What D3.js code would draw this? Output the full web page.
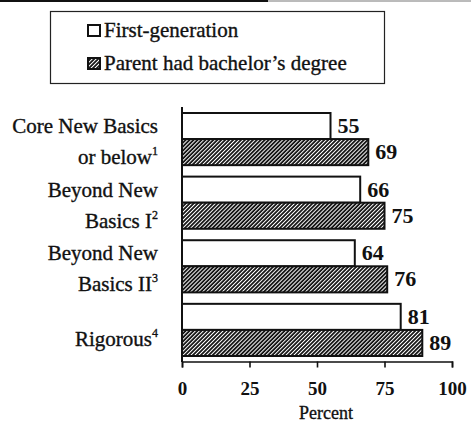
<!DOCTYPE html>
<html>
<head>
<meta charset="utf-8">
<script src="https://cdn.jsdelivr.net/npm/d3@7"></script>
<style>
  body { margin: 0; background: #fff; }
  svg { display: block; }
  text { font-family: "Liberation Serif", "Times New Roman", serif; fill: #111; }
  .lbl { stroke: #111; stroke-width: 0.35; }
</style>
</head>
<body>
<svg width="471" height="431"></svg>
<script>
// data
const categories = ["Core New Basics|or below|1", "Beyond New|Basics I|2", "Beyond New|Basics II|3", "|Rigorous|4"];
const seriesNames = ["First-generation", "Parent had bachelor\u2019s degree"];
const firstGen = [55, 66, 64, 81];
const parentBA = [69, 75, 76, 89];
const xTicks = [0, 25, 50, 75, 100];

const svg = d3.select("svg");

// hatch pattern for the second series
const defs = svg.append("defs");
const pat = defs.append("pattern")
    .attr("id", "hatch")
    .attr("patternUnits", "userSpaceOnUse")
    .attr("width", 2.8).attr("height", 2.8)
    .attr("patternTransform", "rotate(45)");
pat.append("rect").attr("width", 2.8).attr("height", 2.8).attr("fill", "#111");
pat.append("rect").attr("width", 1.0).attr("height", 2.8).attr("fill", "#fff");

// top rule (scan edge)
svg.append("line").attr("x1", 0).attr("x2", 268).attr("y1", 1).attr("y2", 1)
    .attr("stroke", "#111").attr("stroke-width", 2);
svg.append("line").attr("x1", 268).attr("x2", 471).attr("y1", 1).attr("y2", 1)
    .attr("stroke", "#777").attr("stroke-width", 1);

const x = d3.scaleLinear().domain([0, 100]).range([182, 452]);
const y0 = d3.scaleBand().domain(categories).range([113, 356]).paddingInner(0.18);
const y1 = d3.scaleBand().domain(seriesNames).range([0, y0.bandwidth()]);

const rows = categories.map(function(c, i) {
    return { cat: c, vals: [
        { s: seriesNames[0], v: firstGen[i] },
        { s: seriesNames[1], v: parentBA[i] }
    ]};
});

// legend
const lg = svg.append("g");
lg.append("rect").attr("x", 50.5).attr("y", 11.5).attr("width", 334).attr("height", 72)
    .attr("fill", "none").attr("stroke", "#222").attr("stroke-width", 1.2);
seriesNames.forEach(function(s, i) {
    const yy = 25 + i * 33;
    lg.append("rect").attr("x", 88).attr("y", yy).attr("width", 12).attr("height", 11)
        .attr("fill", i === 0 ? "#fff" : "url(#hatch)")
        .attr("stroke", "#111").attr("stroke-width", 2);
    lg.append("text").attr("class", "lbl").attr("x", 104).attr("y", yy + 12)
        .attr("font-size", 21)
        .text(s);
});

// bars
const groups = svg.selectAll("g.grp").data(rows).enter().append("g")
    .attr("class", "grp")
    .attr("transform", function(d) { return "translate(0," + y0(d.cat) + ")"; });

groups.selectAll("rect").data(function(d) { return d.vals; }).enter().append("rect")
    .attr("x", x(0))
    .attr("y", function(d) { return y1(d.s); })
    .attr("width", function(d) { return x(d.v) - x(0); })
    .attr("height", y1.bandwidth())
    .attr("fill", function(d, i) { return i === 0 ? "#fff" : "url(#hatch)"; })
    .attr("stroke", "#111")
    .attr("stroke-width", 2);

groups.selectAll("text.val").data(function(d) { return d.vals; }).enter().append("text")
    .attr("class", "val")
    .attr("x", function(d) { return x(d.v) + 7; })
    .attr("y", function(d) { return y1(d.s) + y1.bandwidth() - 6; })
    .attr("font-size", 22)
    .attr("font-weight", "bold")
    .text(function(d) { return d.v; });

// category labels (two lines + superscript note)
groups.each(function(d) {
    const parts = d.cat.split("|");
    const g = d3.select(this);
    if (parts[0]) {
        g.append("text").attr("class", "lbl").attr("x", 158).attr("y", 20)
            .attr("text-anchor", "end").attr("font-size", 21).text(parts[0]);
    }
    const t = g.append("text").attr("class", "lbl").attr("x", 158).attr("y", parts[0] ? 51 : 42)
        .attr("text-anchor", "end").attr("font-size", 21);
    t.append("tspan").text(parts[1]);
    t.append("tspan").attr("dy", -9).attr("font-size", 12).text(parts[2]);
});

// axes
svg.append("line").attr("x1", x(0)).attr("x2", x(0)).attr("y1", 107).attr("y2", 362)
    .attr("stroke", "#111").attr("stroke-width", 2);

const xAxis = svg.append("g")
    .attr("transform", "translate(0,361.5)")
    .call(d3.axisBottom(x).tickValues(xTicks).tickSize(6).tickSizeOuter(6));
xAxis.select(".domain").attr("stroke", "#111").attr("stroke-width", 1.6);
xAxis.selectAll(".tick line").attr("stroke", "#111").attr("stroke-width", 1.6);
xAxis.selectAll(".tick text")
    .attr("y", 33).attr("dy", null)
    .attr("font-size", 19).attr("font-weight", "bold")
    .style("font-family", "'Liberation Serif', serif").attr("fill", "#111");

svg.append("text").attr("class", "lbl").attr("x", 326).attr("y", 419)
    .attr("text-anchor", "middle").attr("font-size", 18).text("Percent");
</script>
</body>
</html>
